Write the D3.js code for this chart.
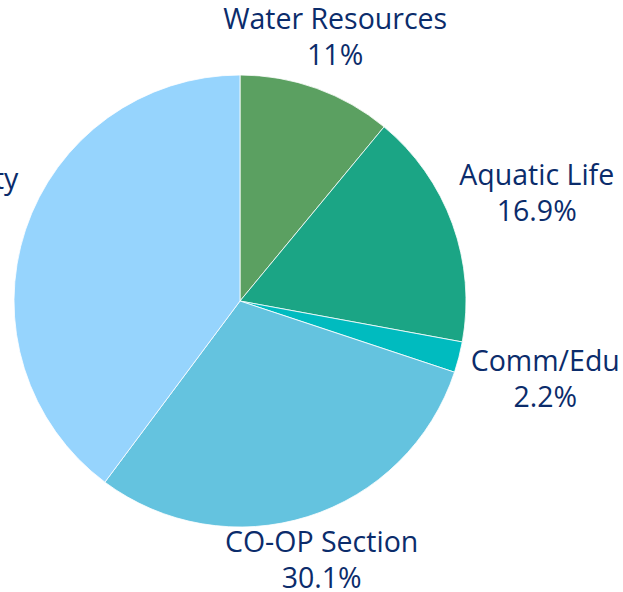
<!DOCTYPE html>
<html>
<head>
<meta charset="utf-8">
<script src="https://cdn.jsdelivr.net/npm/d3@7"></script>
<style>
  html, body { margin: 0; padding: 0; background: #fff; }
  svg { display: block; }
</style>
</head>
<body>
<svg id="chart" width="623" height="592"></svg>
<script>
const categories = ["Water Resources", "Aquatic Life", "Comm/Edu", "CO-OP Section", "Water Quality"];
const values = [11, 16.9, 2.2, 30.1, 39.8];
const valueLabels = ["11%", "16.9%", "2.2%", "30.1%", "39.8%"];
const colors = ["#5ba061", "#1ba585", "#00bbbf", "#64c3df", "#96d4fd"];

const W = 623, H = 592;
const cx = 240, cy = 301, R = 226;
const fontSize = 28.5, lineGap = 36, capH = 20, labelR0 = 243;

const svg = d3.select("#chart");
const g = svg.append("g").attr("transform", `translate(${cx},${cy})`);

const data = categories.map((c, i) => ({ cat: c, value: values[i], label: valueLabels[i], color: colors[i] }));
const pie = d3.pie().sort(null).value(d => d.value).startAngle(0).endAngle(2 * Math.PI);
const arc = d3.arc().innerRadius(0).outerRadius(R);
const arcs = pie(data);

g.selectAll("path.slice")
  .data(arcs)
  .join("path")
  .attr("class", "slice")
  .attr("d", arc)
  .attr("fill", d => d.data.color)
  .attr("stroke", "#ffffff")
  .attr("stroke-width", 0.8);

const labels = g.selectAll("text.lbl")
  .data(arcs)
  .join("text")
  .attr("class", "lbl")
  .attr("text-anchor", "middle")
  .attr("font-family", "Open Sans, sans-serif")
  .attr("font-size", fontSize)
  .attr("fill", "#0b2c6b");

labels.append("tspan").attr("class", "l1").text(d => d.data.cat);
labels.append("tspan").attr("class", "l2").text(d => d.data.label);

labels.each(function(d) {
  const t = d3.select(this);
  const w1 = t.select(".l1").node().getComputedTextLength();
  const w2 = t.select(".l2").node().getComputedTextLength();
  const w = Math.max(w1, w2);
  const a = (d.startAngle + d.endAngle) / 2;
  const dist = labelR0 + Math.abs(Math.sin(a)) * w / 2;
  const x = dist * Math.sin(a);
  const y = -dist * Math.cos(a);
  const top = y - (lineGap + capH) / 2;
  t.select(".l1").attr("x", x).attr("y", top + capH);
  t.select(".l2").attr("x", x).attr("y", top + capH + lineGap);
});
</script>
</body>
</html>
